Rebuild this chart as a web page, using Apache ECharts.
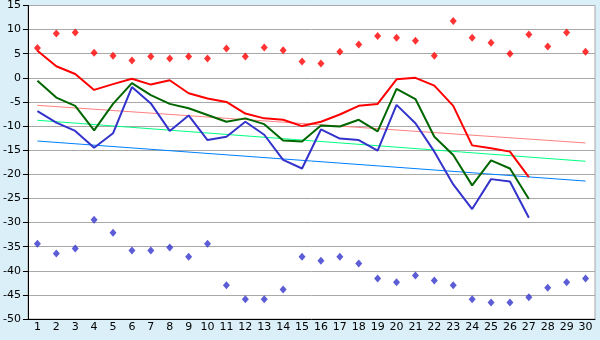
<!DOCTYPE html>
<html>
<head>
<meta charset="utf-8">
<script src="https://cdn.jsdelivr.net/npm/echarts@6/dist/echarts.min.js"></script>
<style>
  html, body { margin: 0; padding: 0; background: #daeff7; }
  #chart { width: 600px; height: 340px; }
</style>
</head>
<body>
<div id="chart"></div>
<script>
// Days of the month
const days = ['1','2','3','4','5','6','7','8','9','10','11','12','13','14','15','16','17','18','19','20','21','22','23','24','25','26','27','28','29','30'];

// Daily maxima (points)
const dailyMax = [6.2, 9.2, 9.4, 5.2, 4.6, 3.6, 4.4, 4.0, 4.4, 4.0, 6.1, 4.4, 6.3, 5.7, 3.4, 3.0, 5.4, 6.9, 8.7, 8.3, 7.7, 4.6, 11.8, 8.3, 7.3, 5.0, 9.0, 6.5, 9.4, 5.4];
// Daily minima (points)
const dailyMin = [-34.4, -36.4, -35.4, -29.4, -32.1, -35.8, -35.8, -35.2, -37.1, -34.4, -43.0, -45.9, -45.9, -43.9, -37.1, -37.9, -37.1, -38.5, -41.6, -42.4, -41.0, -42.0, -43.0, -45.9, -46.6, -46.6, -45.5, -43.5, -42.4, -41.6];

// Line series, days 1-27
const redLine = [5.6, 2.4, 0.8, -2.5, -1.3, -0.2, -1.4, -0.5, -3.2, -4.3, -5.0, -7.4, -8.4, -8.7, -10.0, -9.1, -7.6, -5.8, -5.4, -0.3, 0.0, -1.6, -5.8, -14.0, -14.6, -15.3, -20.6];
const greenLine = [-0.6, -4.1, -5.8, -10.9, -5.4, -1.1, -3.6, -5.4, -6.3, -7.7, -9.1, -8.4, -9.6, -13.0, -13.2, -9.9, -10.1, -8.7, -11.1, -2.3, -4.4, -12.2, -16.0, -22.3, -17.1, -18.8, -25.1];
const blueLine = [-6.9, -9.3, -11.0, -14.5, -11.5, -1.9, -5.3, -11.0, -7.8, -12.9, -12.2, -9.1, -11.8, -17.0, -18.8, -10.7, -12.6, -12.9, -15.1, -5.6, -9.4, -15.3, -22.1, -27.2, -21.0, -21.5, -29.0];

// Trend line end values (day 1, day 30)
const redTrend = [-5.7, -13.5];
const greenTrend = [-8.8, -17.3];
const blueTrend = [-13.1, -21.4];

// Y axis ticks
const yMin = -50, yMax = 15, yStep = 5;

const chart = echarts.init(document.getElementById('chart'), null, { renderer: 'canvas' });

function trend(ends, color) {
  return {
    type: 'line',
    data: [[days[0], ends[0]], [days[days.length - 1], ends[1]]],
    symbol: 'none',
    lineStyle: { color: color, width: 1 },
    silent: true,
    z: 1
  };
}
function line(values, color) {
  return {
    type: 'line',
    data: values,
    symbol: 'none',
    lineStyle: { color: color, width: 2 },
    z: 2
  };
}
function points(values, color) {
  return {
    type: 'scatter',
    data: values,
    symbol: 'diamond',
    symbolSize: [7, 8],
    itemStyle: { color: color },
    z: 3
  };
}

const axisFont = { fontFamily: 'DejaVu Sans', fontSize: 11, color: '#000' };

chart.setOption({
  backgroundColor: '#daeff7',
  animation: false,
  grid: {
    left: 27, right: 5, top: 5, bottom: 21,
    show: true,
    backgroundColor: '#ffffff',
    borderColor: '#a8a8a8',
    borderWidth: 1
  },
  xAxis: {
    type: 'category',
    data: days,
    boundaryGap: true,
    axisLine: { onZero: false, lineStyle: { color: '#000', width: 1 } },
    axisTick: { alignWithLabel: true, length: 5, lineStyle: { color: '#000' } },
    axisLabel: Object.assign({ margin: 3, interval: 0 }, axisFont),
    splitLine: { show: false }
  },
  yAxis: {
    type: 'value',
    min: yMin, max: yMax, interval: yStep,
    axisLine: { show: true, onZero: false, lineStyle: { color: '#000', width: 1 } },
    axisTick: { show: true, length: 5, lineStyle: { color: '#000' } },
    axisLabel: Object.assign({ margin: 7 }, axisFont),
    splitLine: { show: true, lineStyle: { color: '#a8a8a8', width: 1 } }
  },
  series: [
    trend(redTrend, '#ff8080'),
    trend(greenTrend, '#00ff80'),
    trend(blueTrend, '#0080ff'),
    line(redLine, '#ff0000'),
    line(greenLine, '#006600'),
    line(blueLine, '#3333cc'),
    points(dailyMax, '#ff0000'),
    points(dailyMin, '#3333cc')
  ]
});
</script>
</body>
</html>
